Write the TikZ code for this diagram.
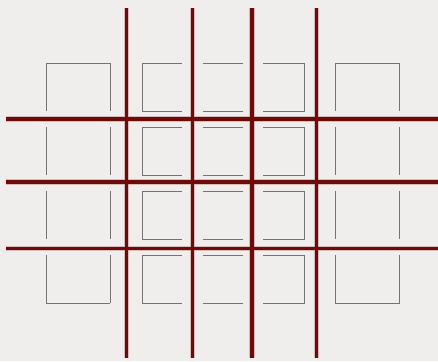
\documentclass[tikz,border=0pt]{standalone}
\definecolor{bg}{HTML}{EFEEEC}
\definecolor{maroon}{HTML}{6E0A0A}
\definecolor{halo}{HTML}{C89A96}
\definecolor{gline}{HTML}{737373}
\tikzset{
  redline/.style={draw=maroon, line width=3.6pt},
  haloline/.style={draw=halo, line width=5.6pt, opacity=0.6},
  grayline/.style={draw=gline, line width=1pt},
}
\begin{document}
\begin{tikzpicture}[x=1pt,y=-1pt]
\fill[bg] (0,0) rectangle (438,361);
\useasboundingbox (0,0) rectangle (438,361);
% gray shapes
\foreach \ya/\yb [count=\r] in {63/111,127/175,191/239,255/303}{
  % column 1 and 5: sides, top on row 1, bottom on row 4
  \foreach \xa/\xb in {46/110,335/399.5}{
    \draw[grayline] (\xa,\ya) -- (\xa,\yb);
    \draw[grayline] (\xb,\ya) -- (\xb,\yb);
    \ifnum\r=1 \draw[grayline] (\xa,\ya) -- (\xb,\ya); \fi
    \ifnum\r=4 \draw[grayline] (\xa,\yb) -- (\xb,\yb); \fi
  }
  % column 2: open right
  \draw[grayline] (182,\ya) -- (142,\ya) -- (142,\yb) -- (182,\yb);
  % column 3: top and bottom
  \draw[grayline] (202.5,\ya) -- (242.5,\ya);
  \draw[grayline] (202.5,\yb) -- (242.5,\yb);
  % column 4: open left
  \draw[grayline] (263,\ya) -- (304,\ya) -- (304,\yb) -- (263,\yb);
}
% red grid
\foreach \y in {119,182,248.5}{
  \draw[haloline] (6,\y) -- (438,\y);
}
\foreach \x in {126.5,192.5,252,316.5}{
  \draw[haloline] (\x,8) -- (\x,358);
}
\foreach \y in {119,182,248.5}{
  \draw[redline] (6,\y) -- (438,\y);
}
\foreach \x in {126.5,192.5,252,316.5}{
  \draw[redline] (\x,8) -- (\x,358);
}
\end{tikzpicture}
\end{document}
